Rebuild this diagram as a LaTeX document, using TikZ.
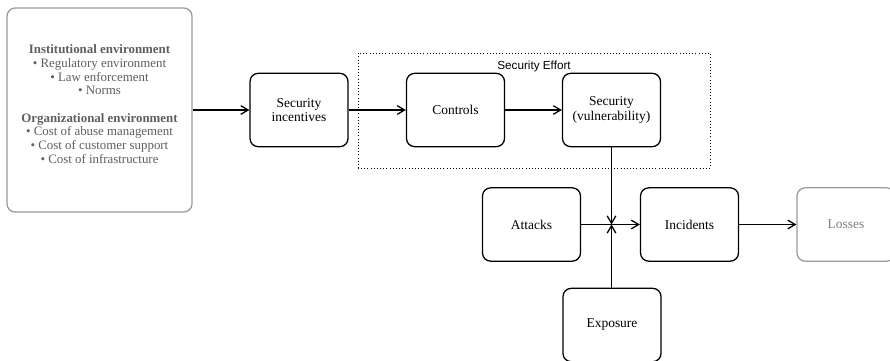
\documentclass[tikz,border=0pt]{standalone}
\usepackage{fontspec}
\setmainfont{Liberation Serif}
\setsansfont{Liberation Sans}
\usetikzlibrary{arrows.meta, positioning, calc}
\definecolor{envgray}{HTML}{9A9A9A}
\definecolor{envtext}{HTML}{5E5E5E}
\tikzset{
	box/.style={rectangle, draw, line width=1.1pt, rounded corners=7pt, minimum width=2.94cm, minimum height=2.2cm, align=center, font=\fontsize{11.5}{12.5}\selectfont},
	greybox/.style={box, draw=envgray, text=envtext!80},
	line/.style={draw, line width=1.1pt, -{Straight Barb[length=2.2mm, width=2.6mm]}}
}

\begin{document}
\begin{tikzpicture}[x=0.03cm, y=-0.03cm]
	\useasboundingbox (0,0) rectangle (890,360);
	% Environment block (grey)
	\node[greybox, minimum width=5.55cm, minimum height=6.12cm] (env) at (99.5,110) {};
	\node[align=center, text=envtext, font=\fontsize{11}{11.6}\selectfont, yshift=5pt] (envlist) at (env.center)
		{\textbf{Institutional environment}\\ \textbullet\ Regulatory environment\\ \textbullet\ Law enforcement\\ \textbullet\ Norms\\[12pt]
		 \textbf{Organizational environment}\\ \textbullet\ Cost of abuse management\\ \textbullet\ Cost of customer support\\ \textbullet\ Cost of infrastructure};
	
	% Upper row
	\node[box] (incentives) at (299,110) {Security\\ incentives};
	\node[box] (controls) at (455.5,110) {Controls};
	\node[box] (security) at (611.5,110) {Security\\ (vulnerability)};
	
	% Security effort frame
	\node[draw, dotted, line width=0.7pt, minimum width=10.56cm, minimum height=3.45cm] (effort) at (534,110.5) {};
	\node[below=6pt of effort.north, font=\sffamily\fontsize{10}{11}\selectfont, inner sep=1pt] (efforttitle) {Security Effort};
	
	% Lower row
	\node[box] (attacks) at (531.5,224.5) {Attacks};
	\node[box] (incidents) at (689.5,224.5) {Incidents};
	\node[greybox] (losses) at (846,224.5) {Losses};
	\node[box] (exposure) at (612,325) {Exposure};
	\coordinate (junction) at (security.south |- attacks.east);
	
	% Connecting lines
	\path[line] (env) -- (incentives);
	\path[line] (incentives) -- (controls);
	\path[line] (controls) -- (security);
	\path[line] (security) -- (junction);
	\path[line] (exposure.north -| junction) -- (junction);
	\path[line] (attacks) -- (incidents);
	\path[line] (incidents) -- (losses);
\end{tikzpicture}
\end{document}
